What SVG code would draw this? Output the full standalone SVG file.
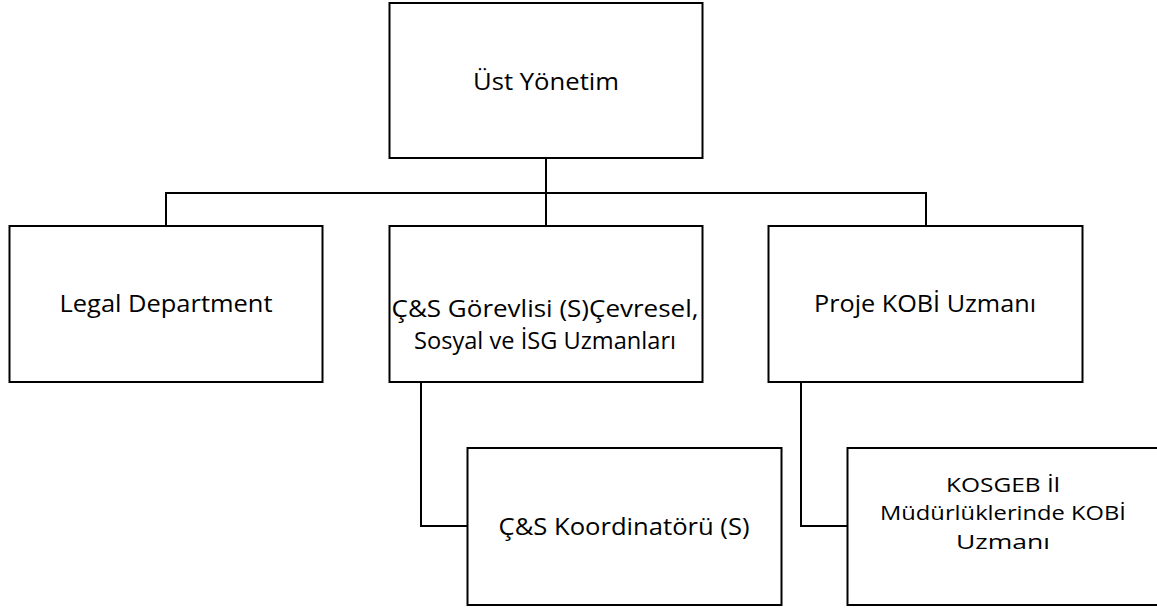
<svg xmlns="http://www.w3.org/2000/svg" width="1157" height="612" viewBox="0 0 1157 612">
<style>
.box{fill:#fff;stroke:#000;stroke-width:2}
.con{fill:none;stroke:#000;stroke-width:2}
text{font-family:"Open Sans","Noto Sans","DejaVu Sans",sans-serif;font-size:23.5px;fill:#000;text-anchor:middle}
text.t{font-size:20.5px}
</style>
<rect width="1157" height="612" fill="#fff"/>
<g id="connectors">
<path class="con" d="M546 158V225M166 225V193H926V225"/>
<path class="con" d="M421 382V526H467"/>
<path class="con" d="M801 382V526H847"/>
</g>
<g id="n-ust">
<rect class="box" x="389.5" y="3" width="313" height="155"/>
<text x="546" y="90" textLength="146" lengthAdjust="spacingAndGlyphs">Üst Yönetim</text>
</g>
<g id="n-legal">
<rect class="box" x="9.5" y="226" width="313" height="156"/>
<text x="166" y="312" textLength="213" lengthAdjust="spacingAndGlyphs">Legal Department</text>
</g>
<g id="n-cs">
<rect class="box" x="389.5" y="226" width="313" height="156"/>
<text x="545" y="317" textLength="307" lengthAdjust="spacingAndGlyphs">Ç&amp;S Görevlisi (S)Çevresel,</text>
<text x="545" y="349" textLength="262" lengthAdjust="spacingAndGlyphs">Sosyal ve İSG Uzmanları</text>
</g>
<g id="n-proje">
<rect class="box" x="768.5" y="226" width="314" height="156"/>
<text x="925" y="312" textLength="222" lengthAdjust="spacingAndGlyphs">Proje KOBİ Uzmanı</text>
</g>
<g id="n-koord">
<rect class="box" x="467.5" y="448" width="314" height="157"/>
<text x="624" y="535" textLength="251" lengthAdjust="spacingAndGlyphs">Ç&amp;S Koordinatörü (S)</text>
</g>
<g id="n-kosgeb">
<rect class="box" x="847.5" y="448" width="314" height="157"/>
<text class="t" x="1003" y="492" textLength="114" lengthAdjust="spacingAndGlyphs">KOSGEB İl</text>
<text class="t" x="1003" y="520" textLength="246" lengthAdjust="spacingAndGlyphs">Müdürlüklerinde KOBİ</text>
<text class="t" x="1003" y="549" textLength="94" lengthAdjust="spacingAndGlyphs">Uzmanı</text>
</g>
</svg>
